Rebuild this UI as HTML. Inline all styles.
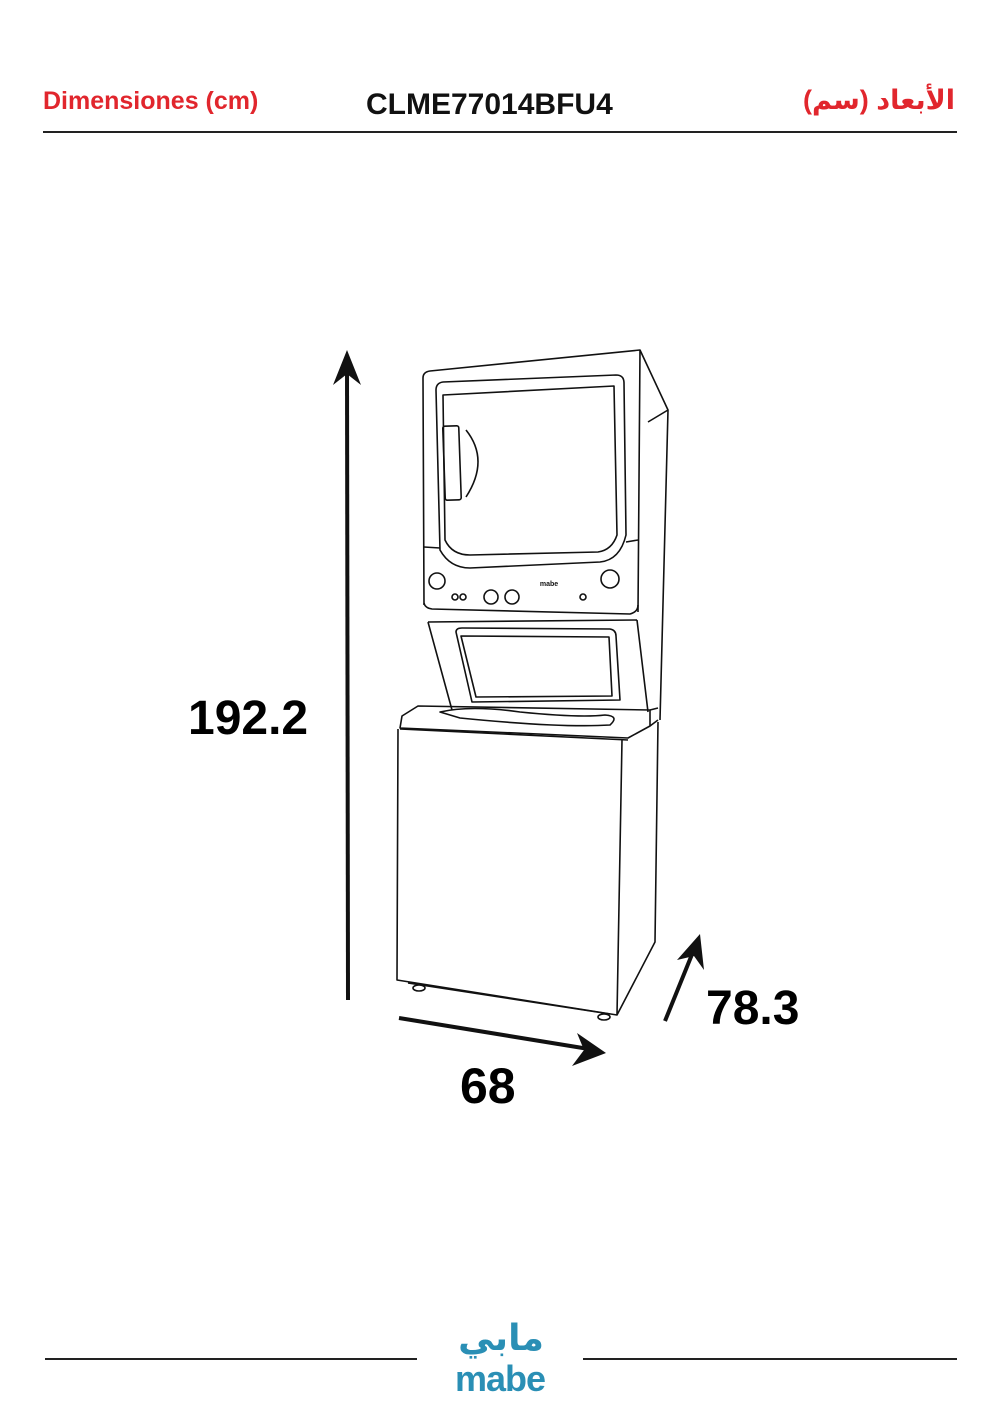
<!DOCTYPE html>
<html><head><meta charset="utf-8"><style>
html,body{margin:0;padding:0;background:#fff;}
body{width:1000px;height:1414px;position:relative;overflow:hidden;font-family:"Liberation Sans",sans-serif;}
.t{position:absolute;white-space:nowrap;}
</style></head><body>
<div class="t" style="left:43px;top:87px;font-size:25px;font-weight:bold;color:#e1262d;">Dimensiones (cm)</div>
<div class="t" style="left:366px;top:88px;font-size:30px;font-weight:bold;color:#111;">CLME77014BFU4</div>
<div class="t" style="right:45px;top:85px;font-size:27px;font-weight:bold;color:#e1262d;font-family:'Liberation Sans','DejaVu Sans',sans-serif;" dir="rtl">الأبعاد (سم)</div>
<div style="position:absolute;left:43px;top:131px;width:914px;height:2px;background:#222;"></div>
<svg width="1000" height="1414" style="position:absolute;left:0;top:0" fill="none" stroke="#111" stroke-width="1.6" stroke-linejoin="round">
<path d="M423,378 Q423,372 430,371 L640,350 L668,410 L660,720"/>
<path d="M423,378 L424,605 M640,350 L638,612 M668,410 L648,422"/>
<path d="M436,390 Q436,383 443,382 L616,375 Q624,375 624,383 L626,535 Q620,560 600,562 L470,568 Q450,568 440,550 Z"/>
<path d="M443,395 L614,386 L617,535 Q612,550 598,552 L470,555 Q452,555 445,540 Z"/>
<path d="M424,547 L440,548 M626,542 L638,540"/>
<path d="M424,603 Q425,608 432,609 L630,614 Q638,612 638,605"/>
<rect x="444" y="426" width="16" height="74" rx="2" transform="rotate(-2 452 463)"/>
<path d="M466,430 Q490,460 466,497"/>
<circle cx="437" cy="581" r="8"/><circle cx="610" cy="579" r="9"/>
<circle cx="455" cy="597" r="3"/><circle cx="463" cy="597" r="3"/>
<circle cx="491" cy="597" r="7"/><circle cx="512" cy="597" r="7"/>
<circle cx="583" cy="597" r="3"/>
<path d="M428,622 L452,710 M637,620 L648,712 M428,622 L637,620"/>
<path d="M456,632 Q456,628 462,628 L610,629 Q616,630 616,636 L620,700 L472,702 Z"/>
<path d="M461,636 L609,637 L612,696 L476,697 Z"/>
<path d="M402,716 L418,706 L650,710 L650,726 L628,738 L400,728 Z"/>
<path d="M440,712 Q470,705 520,712 Q580,718 605,715 Q620,716 610,725 Q560,728 460,718 Z"/>
<path d="M400,729 L628,740 M650,726 L658,720 M650,710 L658,708"/>
<path d="M398,729 L397,980 L617,1015 L622,740 M658,722 L655,942 L617,1015"/>
<path d="M408,983 L610,1014"/>
<ellipse cx="419" cy="988" rx="6" ry="3"/><ellipse cx="604" cy="1017" rx="6" ry="3"/>
</svg>
<svg width="1000" height="1414" style="position:absolute;left:0;top:0">
<line x1="348" y1="1000" x2="347" y2="365" stroke="#111" stroke-width="4"/>
<path d="M347,350 L361,385 L347,374 L333,385 Z" fill="#111"/>
<line x1="399" y1="1018" x2="595" y2="1050" stroke="#111" stroke-width="4"/>
<path d="M606,1053 L572,1066 L584,1050 L577,1033 Z" fill="#111"/>
<line x1="665" y1="1021" x2="695" y2="947" stroke="#111" stroke-width="4"/>
<path d="M700,934 L704,970 L694,956 L677,960 Z" fill="#111"/>
<text x="549" y="586" font-family="Liberation Sans" font-size="7" font-weight="bold" fill="#111" text-anchor="middle">mabe</text>
</svg>
<div class="t" style="left:188px;top:691px;font-size:48px;font-weight:bold;">192.2</div>
<div class="t" style="left:706px;top:981px;font-size:48px;font-weight:bold;">78.3</div>
<div class="t" style="left:460px;top:1057px;font-size:50px;font-weight:bold;">68</div>
<div style="position:absolute;left:45px;top:1358px;width:372px;height:2px;background:#222;"></div>
<div style="position:absolute;left:583px;top:1358px;width:374px;height:2px;background:#222;"></div>
<div class="t" style="left:440px;top:1318px;width:122px;text-align:center;font-size:36px;font-weight:bold;color:#2a8fb5;font-family:'DejaVu Sans',sans-serif;" dir="rtl">مابي</div>
<div class="t" style="left:450px;top:1358px;width:100px;text-align:center;font-size:36px;font-weight:bold;color:#2a8fb5;letter-spacing:-1px;">mabe</div>
</body></html>
